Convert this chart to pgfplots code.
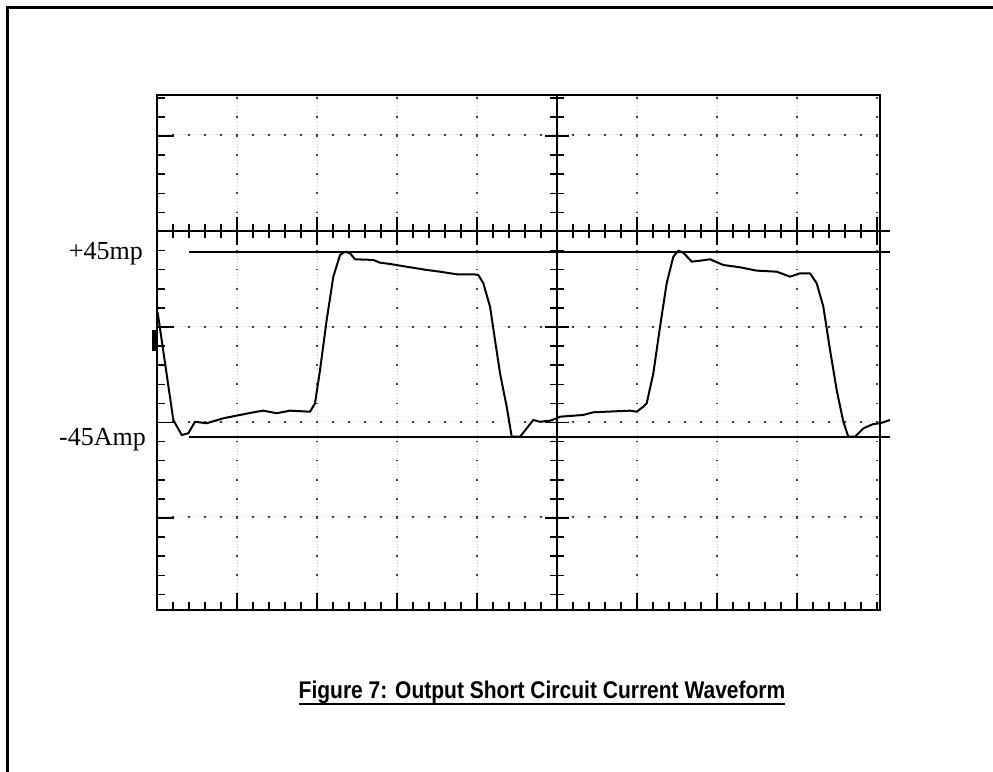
\documentclass[border=0pt]{standalone}
\usepackage{pgfplots}
\pgfplotsset{compat=1.18}
\usepackage{fontspec}
\newfontfamily\arialf{Liberation Sans}
\newfontfamily\seriff{Liberation Serif}
\begin{document}
\begin{tikzpicture}
% ---------- pixel-based decorations (scope: x right, y down, origin = image top-left)
\begin{scope}[shift={(-157pt,610pt)}, x=1pt, y=-1pt]
  % outer frame (partly outside the picture)
  \draw[line width=3pt] (7.5,800) -- (7.5,7.5) -- (1020,7.5);
  % faint grid fuzz
  \foreach \x in {237,317,397,477,637,717,797}
    \draw[gray!40, line width=1pt, dash pattern=on 1pt off 2.2pt] (\x,96) -- (\x,609);
  \foreach \y in {135,327,422,517}
    \draw[gray!40, line width=1pt, dash pattern=on 1pt off 2.2pt] (158,\y) -- (879,\y);
  % dark grid dots
  \foreach \x in {237,317,397,477,637,717,797,877}
    \draw[black!75, line width=2pt, dash pattern=on 1.6pt off 17.5pt, dash phase=17.1pt] (\x,95) -- (\x,610);
  \foreach \y in {135,327,422,517}
    \draw[black!75, line width=2pt, dash pattern=on 1.6pt off 14.4pt, dash phase=0.8pt] (157,\y) -- (880,\y);
\end{scope}

\begin{axis}[
  at={(0pt,0pt)}, anchor=south west,
  scale only axis, width=723pt, height=515pt,
  xmin=0, xmax=9.0375, ymin=-2.963, ymax=2.429,
  clip=false,
  axis line style={line width=2.6pt},
  xtick={1,...,8}, minor xtick={0.2,0.4,...,9.0},
  ytick={-2,-1,0,1,2}, minor ytick={-2.8,-2.6,...,2.4},
  xticklabels={}, yticklabels={},
  xtick pos=bottom, ytick pos=left,
  tick align=inside,
  major tick length=17pt, minor tick length=8pt,
  every tick/.style={black, line width=1.5pt},
]
% scope centre axes
\addplot[black, line width=2pt] coordinates {(0,1.005) (9.1625,1.005)};
\addplot[black, line width=2pt] coordinates {(5,-2.963) (5,2.429)};
% +45 A and -45 A reference lines
\addplot[black, line width=1.9pt] coordinates {(0.4,0.785) (9.1625,0.785)};
\addplot[black, line width=1.9pt] coordinates {(0.4,-1.152) (9.1625,-1.152)};
% current waveform (x in divisions, y in divisions)
\addplot[black, line width=2pt, line join=round] coordinates {
(0.006,0.157)(0.016,0.108)(0.204,-0.974)(0.309,-1.131)(0.391,-1.113)(0.475,-0.992)
(0.621,-1.008)(0.829,-0.956)(1.038,-0.921)(1.246,-0.887)(1.329,-0.876)(1.496,-0.903)
(1.663,-0.876)(1.913,-0.887)(1.975,-0.799)(2.038,-0.450)(2.121,0.073)(2.204,0.527)
(2.288,0.754)(2.350,0.788)(2.413,0.772)(2.475,0.709)(2.704,0.702)(2.788,0.673)
(2.913,0.660)(3.121,0.631)(3.371,0.597)(3.538,0.579)(3.746,0.552)(3.954,0.552)
(4.016,0.545)(4.079,0.458)(4.163,0.213)(4.225,-0.136)(4.288,-0.485)(4.371,-0.835)
(4.434,-1.149)(4.538,-1.149)(4.704,-0.974)(4.788,-0.992)(4.913,-0.981)(4.996,-0.956)
(5.038,-0.939)(5.329,-0.921)(5.454,-0.893)(5.913,-0.876)(5.996,-0.887)(6.079,-0.835)
(6.121,-0.799)(6.204,-0.485)(6.288,0.003)(6.371,0.458)(6.454,0.736)(6.516,0.799)
(6.579,0.778)(6.684,0.684)(6.788,0.694)(6.913,0.709)(7.079,0.649)(7.288,0.625)
(7.496,0.590)(7.746,0.579)(7.913,0.527)(8.038,0.562)(8.163,0.562)(8.246,0.458)
(8.329,0.213)(8.413,-0.241)(8.496,-0.660)(8.579,-0.992)(8.641,-1.149)(8.725,-1.149)
(8.829,-1.061)(8.954,-1.016)(9.038,-1.008)(9.163,-0.974)
};
\end{axis}

\begin{scope}[shift={(-157pt,610pt)}, x=1pt, y=-1pt]
  % ticks on the centre horizontal axis
  \foreach \k in {1,...,45} {
    \pgfmathsetmacro\L{mod(\k,5)==0 ? 14 : 7}
    \draw[line width=1.5pt] ({157+16*\k},{231-\L}) -- ({157+16*\k},{231+\L});
  }
  % ticks on the centre vertical axis
  \foreach \k in {-12,...,14} {
    \pgfmathsetmacro\L{mod(\k,5)==0 ? 12 : 7}
    \draw[line width=1.5pt] ({557-\L},{327+19.1*\k}) -- ({557+\L},{327+19.1*\k});
  }
  % ground marker
  \fill (152.5,330) rectangle (158,351);
  % labels
  \node[anchor=base east, inner sep=0pt, font=\seriff\fontsize{26}{30}\selectfont] at (143,260) {+45mp};
  \node[anchor=base east, inner sep=0pt, font=\seriff\fontsize{26}{30}\selectfont] at (146,446) {-45Amp};
\end{scope}

% title
\node[anchor=base, inner sep=0pt, yscale=1.15, transform shape, font=\arialf\bfseries\fontsize{21}{25}\selectfont] (t) at (385pt,-88pt) {Figure 7: Output Short Circuit Current Waveform};
\draw[line width=2.8pt] ([yshift=-6pt]t.base west) -- ([yshift=-6pt]t.base east);

\pgfresetboundingbox
\path[use as bounding box] (-157pt,-161pt) rectangle (836pt,610pt);
\end{tikzpicture}
\end{document}
